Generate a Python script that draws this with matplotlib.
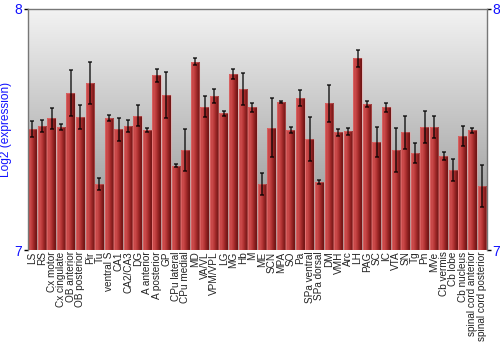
import numpy as np
import matplotlib
matplotlib.use('Agg')
import matplotlib.pyplot as plt
from matplotlib.colors import LinearSegmentedColormap

plt.rcParams['font.family'] = ['Liberation Sans', 'DejaVu Sans']

regions = ['LS', 'RS', 'Cx motor', 'Cx cingulate', 'OB anterior', 'OB posterior',
           'Pir', 'Tu', 'ventral S', 'CA1', 'CA2/CA3', 'DG', 'A anterior',
           'A posterior', 'GP', 'CPu lateral', 'CPu medial', 'MD', 'VA/VL',
           'VPM/VPL', 'LG', 'MG', 'Hb', 'M', 'ME', 'SCN', 'MPA', 'SO', 'Pa',
           'SPa ventral', 'SPa dorsal', 'DM', 'VMH', 'Arc', 'LH', 'PAG', 'SC',
           'IC', 'VTA', 'SN', 'Tg', 'Pn', 'MVe', 'Cb vermis', 'Cb lobe',
           'Cb nucleus', 'spinal cord anterior', 'spinal cord posterior']

expression = [7.502, 7.515, 7.546, 7.510, 7.650, 7.552, 7.692, 7.274, 7.549,
              7.501, 7.515, 7.557, 7.499, 7.725, 7.643, 7.349, 7.415, 7.781,
              7.595, 7.638, 7.567, 7.730, 7.667, 7.593, 7.275, 7.508, 7.615,
              7.499, 7.631, 7.461, 7.282, 7.609, 7.488, 7.492, 7.795, 7.606,
              7.448, 7.593, 7.414, 7.488, 7.402, 7.510, 7.510, 7.389, 7.332,
              7.473, 7.497, 7.266]

error = [0.035, 0.026, 0.044, 0.012, 0.095, 0.048, 0.088, 0.023, 0.013,
         0.047, 0.025, 0.044, 0.009, 0.027, 0.095, 0.006, 0.086, 0.015,
         0.045, 0.028, 0.011, 0.021, 0.067, 0.019, 0.046, 0.121, 0.003,
         0.012, 0.032, 0.090, 0.010, 0.076, 0.013, 0.014, 0.035, 0.014,
         0.061, 0.019, 0.091, 0.067, 0.043, 0.067, 0.047, 0.017, 0.046,
         0.042, 0.010, 0.087]

ymin, ymax = 7, 8

fig = plt.figure(figsize=(5, 3.5), dpi=100)
ax = fig.add_axes([0.0554, 0.2857, 0.918, 0.6886])

x = np.arange(len(regions))
ax.set_xlim(-0.5, len(regions) - 0.5)
ax.set_ylim(ymin, ymax)

# background gradient, light at top, darker at bottom
bg = np.linspace(0, 1, 256).reshape(-1, 1)
bg_cmap = LinearSegmentedColormap.from_list('bg', ['#f3f3f3', '#8c8c8c'])
ax.imshow(bg, cmap=bg_cmap, aspect='auto', extent=(-0.5, len(regions) - 0.5, ymin, ymax),
          origin='upper', zorder=0, interpolation='bicubic')

# bars with horizontal shading
bar_cmap = LinearSegmentedColormap.from_list('bar', ['#c04040', '#cc4c4c', '#b43434', '#8c2020', '#6a1212'])
shade = np.linspace(0, 1, 64).reshape(1, -1)
bars = ax.bar(x, np.array(expression) - ymin, bottom=ymin, width=0.9,
              color='none', edgecolor=(1, 0.6, 0.6, 0.35), linewidth=0.8, zorder=2)
for b in bars:
    x0, y0 = b.get_x(), b.get_y()
    im = ax.imshow(shade, cmap=bar_cmap, aspect='auto',
                   extent=(x0, x0 + b.get_width(), y0, y0 + b.get_height()),
                   zorder=1, interpolation='bilinear')
    im.set_clip_path(b)

ax.errorbar(x, expression, yerr=error, fmt='none', ecolor='black', elinewidth=1.2,
            capsize=1.5, capthick=1.2, alpha=0.75, zorder=3)

ax.set_xlim(-0.5, len(regions) - 0.5)
ax.set_ylim(ymin, ymax)

ax.set_xticks(x)
ax.set_xticklabels(regions, rotation=90, fontsize=7.2, color='#222222')
ax.tick_params(axis='x', length=0, pad=1)

ax.set_yticks([7, 8])
ax.tick_params(axis='y', which='both', direction='out', length=3, width=1,
               colors='black', labelcolor='#1010ff', labelsize=10, pad=1,
               right=True, labelright=True)

ax.set_ylabel('Log2 (expression)', color='#1010ff', fontsize=8.6, labelpad=2)

for side in ['left', 'right', 'top']:
    ax.spines[side].set_color('#777777')
    ax.spines[side].set_linewidth(1)
ax.spines['bottom'].set_visible(False)

fig.savefig('out.png', dpi=100)
